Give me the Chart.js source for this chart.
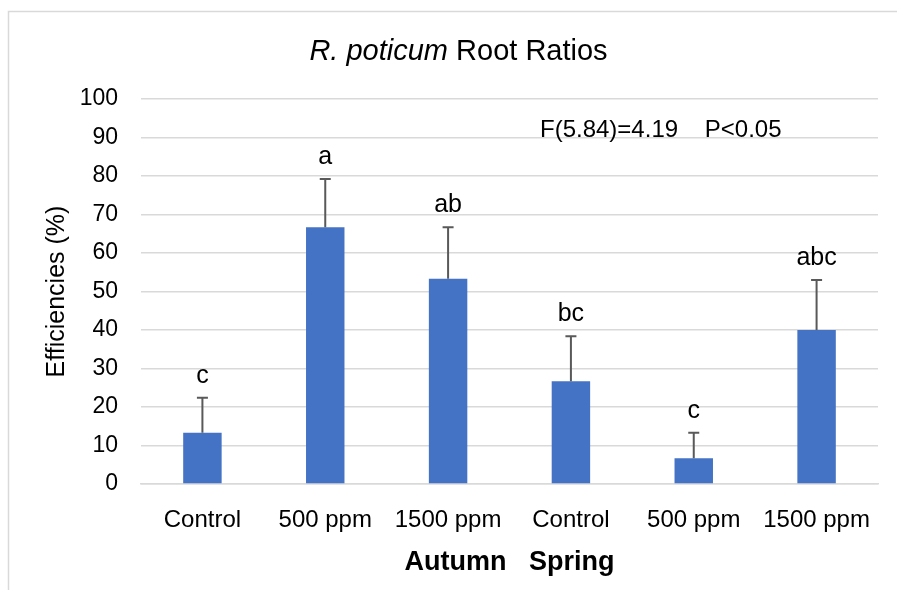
<!DOCTYPE html>
<html>
<head>
<meta charset="utf-8">
<script src="https://cdn.jsdelivr.net/npm/chart.js@4.4.0/dist/chart.umd.min.js"></script>
<style>
   html, body { margin: 0; padding: 0; background: #fff; }
</style>
</head>
<body>
<canvas id="root-ratios" width="897" height="590"></canvas>
<script>
// data
const categories = ['Control', '500 ppm', '1500 ppm', 'Control', '500 ppm', '1500 ppm'];
const ratios = [13.3, 66.7, 53.3, 26.7, 6.7, 40.0];
const errors = [9.1, 12.5, 13.4, 11.7, 6.6, 13.0];
const letters = ['c', 'a', 'ab', 'bc', 'c', 'abc'];
const yTicks = [0, 10, 20, 30, 40, 50, 60, 70, 80, 90, 100];

const FONT = '"Liberation Sans", Arial, sans-serif';
const GRID = '#d9d9d9';

// frame round the chart + white background
const framePlugin = {
   id: 'frame',
   beforeDraw(chart) {
      const ctx = chart.ctx;
      ctx.save();
      ctx.fillStyle = '#fff';
      ctx.fillRect(0, 0, chart.width, chart.height);
      ctx.strokeStyle = GRID;
      ctx.lineWidth = 1.5;
      ctx.strokeRect(8.5, 11.5, chart.width + 20, chart.height + 20);
      ctx.restore();
   }
};

// title with italic species name
const titlePlugin = {
   id: 'mixedTitle',
   afterDraw(chart) {
      const ctx = chart.ctx;
      const italic = 'R. poticum';
      const rest = ' Root Ratios';
      ctx.save();
      ctx.fillStyle = '#000';
      ctx.textBaseline = 'alphabetic';
      ctx.font = 'italic 29px ' + FONT;
      const w1 = ctx.measureText(italic).width;
      ctx.font = '29px ' + FONT;
      const w2 = ctx.measureText(rest).width;
      const x0 = chart.width / 2 + 10 - (w1 + w2) / 2;
      ctx.font = 'italic 29px ' + FONT;
      ctx.fillText(italic, x0, 59.5);
      ctx.font = '29px ' + FONT;
      ctx.fillText(rest, x0 + w1, 59.5);
      ctx.restore();
   }
};

// upper error bars, letters and the F test text
const errorPlugin = {
   id: 'errorBars',
   afterDatasetsDraw(chart) {
      const ctx = chart.ctx;
      const y = chart.scales.y;
      const meta = chart.getDatasetMeta(0);
      ctx.save();
      ctx.strokeStyle = '#595959';
      ctx.lineWidth = 2;
      ctx.fillStyle = '#000';
      ctx.font = '25px ' + FONT;
      ctx.textAlign = 'center';
      ctx.textBaseline = 'alphabetic';
      meta.data.forEach((bar, i) => {
         const yBase = y.getPixelForValue(ratios[i]);
         const yTop = y.getPixelForValue(ratios[i] + errors[i]);
         ctx.beginPath();
         ctx.moveTo(bar.x, yBase);
         ctx.lineTo(bar.x, yTop);
         ctx.moveTo(bar.x - 5.5, yTop);
         ctx.lineTo(bar.x + 5.5, yTop);
         ctx.stroke();
         ctx.fillText(letters[i], bar.x, yTop - 15);
      });

      ctx.textAlign = 'left';
      ctx.font = '24px ' + FONT;
      ctx.fillText('F(5.84)=4.19    P<0.05', chart.chartArea.left + 399, y.getPixelForValue(90) - 0.5);
      ctx.restore();
   }
};

const chart = new Chart(document.getElementById('root-ratios').getContext('2d'), {
   type: 'bar',
   data: {
      labels: categories,
      datasets: [{
         data: ratios,
         backgroundColor: '#4472c4',
         borderWidth: 0,
         categoryPercentage: 1,
         barPercentage: 0.313,
      }],
   },
   options: {
      responsive: false,
      animation: false,
      layout: {
         padding: { top: 99, right: 19, bottom: 0, left: 0 },
      },
      plugins: {
         legend: { display: false },
         tooltip: { enabled: false },
      },
      scales: {
         x: {
            grid: { display: false },
            border: { display: true, color: GRID, width: 1.5 },
            ticks: {
               color: '#000',
               font: { family: FONT, size: 24 },
               padding: 14,
               maxRotation: 0,
            },
            title: {
               display: true,
               text: 'Autumn   Spring',
               color: '#000',
               font: { family: FONT, size: 27, weight: 'bold' },
               padding: { top: 0, bottom: 11 },
            },
            afterFit(scale) {
               scale.height = 106;
            },
         },
         y: {
            min: 0,
            max: 100,
            afterBuildTicks(scale) {
               scale.ticks = yTicks.map(v => ({ value: v }));
            },
            grid: { color: GRID, lineWidth: 1.5, drawTicks: false },
            border: { display: false },
            ticks: {
               color: '#000',
               font: { family: FONT, size: 23 },
               padding: 23,
            },
            title: {
               display: true,
               text: 'Efficiencies (%)',
               color: '#000',
               font: { family: FONT, size: 25 },
               padding: { top: 42, bottom: 0 },
            },
            afterFit(scale) {
               scale.width = 141;
            },
         },
      },
   },
   plugins: [framePlugin, titlePlugin, errorPlugin],
});
</script>
</body>
</html>
